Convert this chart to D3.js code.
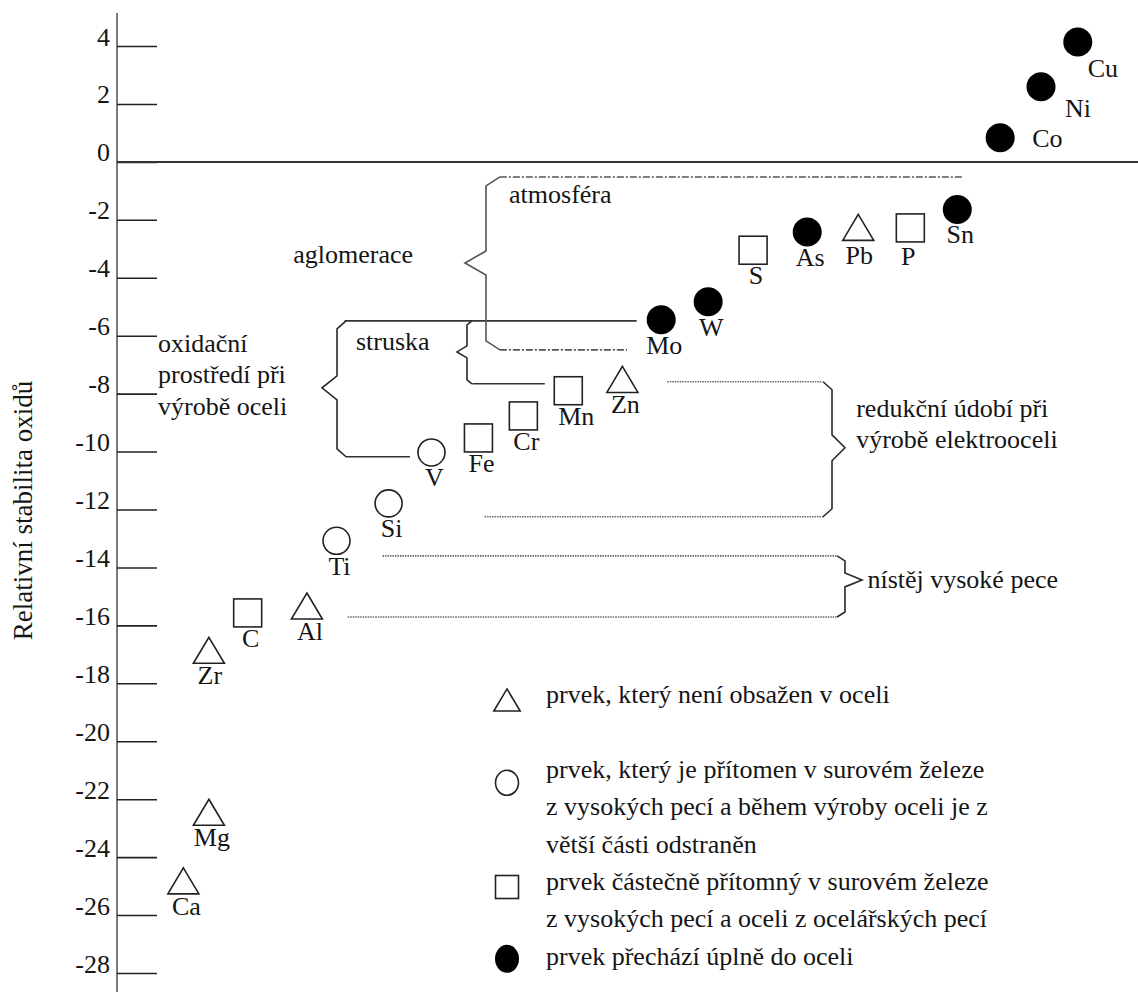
<!DOCTYPE html>
<html>
<head>
<meta charset="utf-8">
<script src="https://cdn.jsdelivr.net/npm/d3@7"></script>
<style>
  html, body { margin: 0; padding: 0; background: #fff; }
  svg { display: block; }
  text { font-family: "Liberation Serif", "Times New Roman", serif; fill: #151515; }
</style>
</head>
<body>
<svg id="chart" width="1138" height="992"></svg>
<script>
// ---------------- DATA ----------------
const elements  = ["Ca","Mg","Zr","C","Al","Ti","Si","V","Fe","Cr","Mn","Zn","Mo","W","S","As","Pb","P","Sn","Co","Ni","Cu"];
const positions = [6.5, 9.0, 9.0, 12.8, 18.6, 21.5, 26.6, 30.8, 35.4, 39.8, 44.2, 49.5, 53.3, 57.9, 62.3, 67.6, 72.6, 77.7, 82.3, 86.5, 90.5, 94.1];
const stability = [-24.82, -22.45, -16.86, -15.57, -15.33, -13.08, -11.79, -10.03, -9.53, -8.77, -7.90, -7.51, -5.45, -4.83, -3.05, -2.42, -2.26, -2.28, -1.64, 0.83, 2.59, 4.14];
const kinds     = ["tri","tri","tri","sq","tri","circ","circ","circ","sq","sq","sq","tri","fill","fill","sq","fill","tri","sq","fill","fill","fill","fill"];

const tickValues = [4, 2, 0, -2, -4, -6, -8, -10, -12, -14, -16, -18, -20, -22, -24, -26, -28];
const tickLabels = ["4","2","0","-2","-4","-6","-8","-10","-12","-14","-16","-18","-20","-22","-24","-26","-28"];
const axisTitle = "Relativní stabilita oxidů";

// reference lines: y value, x from, x to, style
const refY     = [-0.52, -6.49, -5.49, -7.66, -10.18, -7.59, -12.25, -13.60, -15.71];
const refFrom  = [37.5, 37.5, 22.3, 34.8, 22.4, 53.9, 36.0, 26.0, 22.6];
const refTo    = [82.9, 49.95, 50.9, 41.9, 28.7, 69.1, 69.3, 70.5, 70.5];
const refStyle = ["dashdot","dashdot","solid","solid","solid","dotted","dotted","dotted","dotted"];

// braces: spine x, tip x, end x, top y, tip y, bottom y
const braceNames  = ["atmosféra","struska","oxidační","redukční","nístěj"];
const braceSpine  = [36.14, 34.28, 21.55, 70.03, 71.30];
const braceTip    = [34.08, 33.30, 20.08, 71.30, 72.97];
const braceEnd    = [37.51, 34.77, 22.43, 69.15, 70.52];
const braceTop    = [-0.52, -5.49, -5.49, -7.59, -13.60];
const braceTipY   = [-3.49, -6.56, -7.80, -9.87, -14.43];
const braceBottom = [-6.49, -7.66, -10.18, -12.25, -15.71];

// annotation texts (lines), anchor position in data units
const noteTexts = [["atmosféra"], ["aglomerace"], ["struska"], ["oxidační","prostředí při","výrobě oceli"], ["redukční údobí při","výrobě elektrooceli"], ["nístěj vysoké pece"]];
const noteX     = [38.4, 29.0, 23.4, 4.02, 72.4, 73.5];
const noteY     = [-1.42, -3.49, -6.49, -6.56, -8.80, -14.70];
const noteAnchor= ["start","end","start","start","start","start"];

const legendKinds = ["tri","circ","sq","fill"];
const legendTexts = [
  ["prvek, který není obsažen v oceli"],
  ["prvek, který je přítomen v surovém železe","z vysokých pecí a během výroby oceli je z","větší části odstraněn"],
  ["prvek částečně přítomný v surovém železe","z vysokých pecí a oceli z ocelářských pecí"],
  ["prvek přechází úplně do oceli"]
];

// ---------------- LAYOUT ----------------
const svg = d3.select("#chart");
const x = d3.scaleLinear().domain([0, 100]).range([117, 1138]);
const y = d3.scaleLinear().domain([-28, 4]).range([973, 46]);
const FONT = 26;

// y axis line
svg.append("line")
  .attr("x1", x(0)).attr("x2", x(0))
  .attr("y1", y(5.14)).attr("y2", y(-28.7))
  .attr("stroke", "#7a7a7a").attr("stroke-width", 2);

// ticks via d3 axis
const axis = d3.axisRight(y).tickValues(tickValues).tickSize(40)
  .tickFormat((d, i) => tickLabels[i]);
const gAxis = svg.append("g").attr("transform", `translate(${x(0)},0)`).call(axis);
gAxis.select(".domain").remove();
gAxis.selectAll(".tick line").attr("stroke", "#222").attr("stroke-width", 1.6);
gAxis.selectAll(".tick text")
  .attr("x", -7).attr("dy", "-1px")
  .attr("text-anchor", "end")
  .style("font-family", '"Liberation Serif", serif')
  .style("font-size", FONT + "px")
  .attr("fill", "#151515");

// zero line
svg.append("line")
  .attr("x1", x(0)).attr("x2", x(100))
  .attr("y1", y(0)).attr("y2", y(0))
  .attr("stroke", "#333").attr("stroke-width", 2);

// axis title
svg.append("text")
  .attr("transform", `translate(32,${(y(-28) + y(4)) / 2 + 1}) rotate(-90)`)
  .attr("text-anchor", "middle")
  .style("font-size", "27px")
  .text(axisTitle);

// reference lines
const dashes = { dashdot: "7,2,2,2", dotted: "1.5,1", solid: null };
const strokes = { dashdot: "#555", dotted: "#666", solid: "#333" };
refY.forEach((v, i) => {
  svg.append("line")
    .attr("x1", x(refFrom[i])).attr("x2", x(refTo[i]))
    .attr("y1", y(v)).attr("y2", y(v))
    .attr("stroke", strokes[refStyle[i]])
    .attr("stroke-width", 1.6)
    .attr("stroke-dasharray", dashes[refStyle[i]]);
});

// braces
const tipHalf = [12, 6, 12, 13, 7];
const kink    = [9, 4, 8, 8, 5];
braceNames.forEach((n, i) => {
  const sx = x(braceSpine[i]), tx = x(braceTip[i]), ex = x(braceEnd[i]);
  const yt = y(braceTop[i]), ym = y(braceTipY[i]), yb = y(braceBottom[i]);
  const pts = [[ex, yt], [sx, yt + kink[i]], [sx, ym - tipHalf[i]], [tx, ym], [sx, ym + tipHalf[i]], [sx, yb - kink[i]], [ex, yb]];
  svg.append("path")
    .attr("d", d3.line()(pts))
    .attr("fill", "none")
    .attr("stroke", i === 0 ? "#555" : "#2a2a2a")
    .attr("stroke-width", 1.6)
    .attr("stroke-linejoin", "miter");
});

// annotation texts
noteTexts.forEach((lines, i) => {
  const t = svg.append("text")
    .attr("x", x(noteX[i])).attr("y", y(noteY[i]))
    .attr("text-anchor", noteAnchor[i])
    .style("font-size", FONT + "px");
  lines.forEach((l, j) => {
    t.append("tspan").attr("x", x(noteX[i])).attr("dy", j === 0 ? 0 : 31.5).text(l);
  });
});

// marker drawing
function drawMarker(g, kind, cx, cy, big) {
  const s = big ? 1 : 0.85;
  if (kind === "tri") {
    const w = 15.5 * s, h = 13 * s;
    g.append("path").attr("d", `M${cx},${cy - h}L${cx + w},${cy + h}L${cx - w},${cy + h}Z`)
      .attr("fill", "#fff").attr("stroke", "#222").attr("stroke-width", 1.6);
  } else if (kind === "sq") {
    const a = (big ? 28 : 23);
    g.append("rect").attr("x", cx - a / 2).attr("y", cy - a / 2).attr("width", a).attr("height", a)
      .attr("fill", "#fff").attr("stroke", "#222").attr("stroke-width", 1.6);
  } else if (kind === "circ") {
    g.append("ellipse").attr("cx", cx).attr("cy", cy)
      .attr("rx", big ? 13.5 : 11.5).attr("ry", big ? 13.5 : 12.5)
      .attr("fill", "#fff").attr("stroke", "#222").attr("stroke-width", 1.6);
  } else {
    g.append("ellipse").attr("cx", cx).attr("cy", cy)
      .attr("rx", big ? 14.5 : 12).attr("ry", big ? 14.5 : 14)
      .attr("fill", "#000");
  }
}

// points
const labelOffset = { Mn: [8, 34], Pb: [1, 37], P: [-2, 37], Co: [32, 9, "start"], Ni: [24, 30, "start"], Cu: [10, 35, "start"], Zr: [1, 34] };
const gPts = svg.append("g");
elements.forEach((el, i) => {
  const cx = x(positions[i]), cy = y(stability[i]);
  drawMarker(gPts, kinds[i], cx, cy, true);
  const off = labelOffset[el] || [3, 34];
  gPts.append("text")
    .attr("x", cx + off[0]).attr("y", cy + off[1])
    .attr("text-anchor", off[2] || "middle")
    .style("font-size", FONT + "px")
    .text(el);
});

// legend
const legX = 507, legTextX = 546, lineH = 37.4;
const legStartLine = [0, 2, 5, 7];
const legMarkerOff = [-3, 5, -3, -6];
const legBase = 703;
const gLeg = svg.append("g");
legendKinds.forEach((k, i) => {
  const by = legBase + legStartLine[i] * lineH;
  drawMarker(gLeg, k, legX, by + legMarkerOff[i], false);
  legendTexts[i].forEach((l, j) => {
    gLeg.append("text").attr("x", legTextX).attr("y", by + j * lineH)
      .style("font-size", FONT + "px").text(l);
  });
});
</script>
</body>
</html>
